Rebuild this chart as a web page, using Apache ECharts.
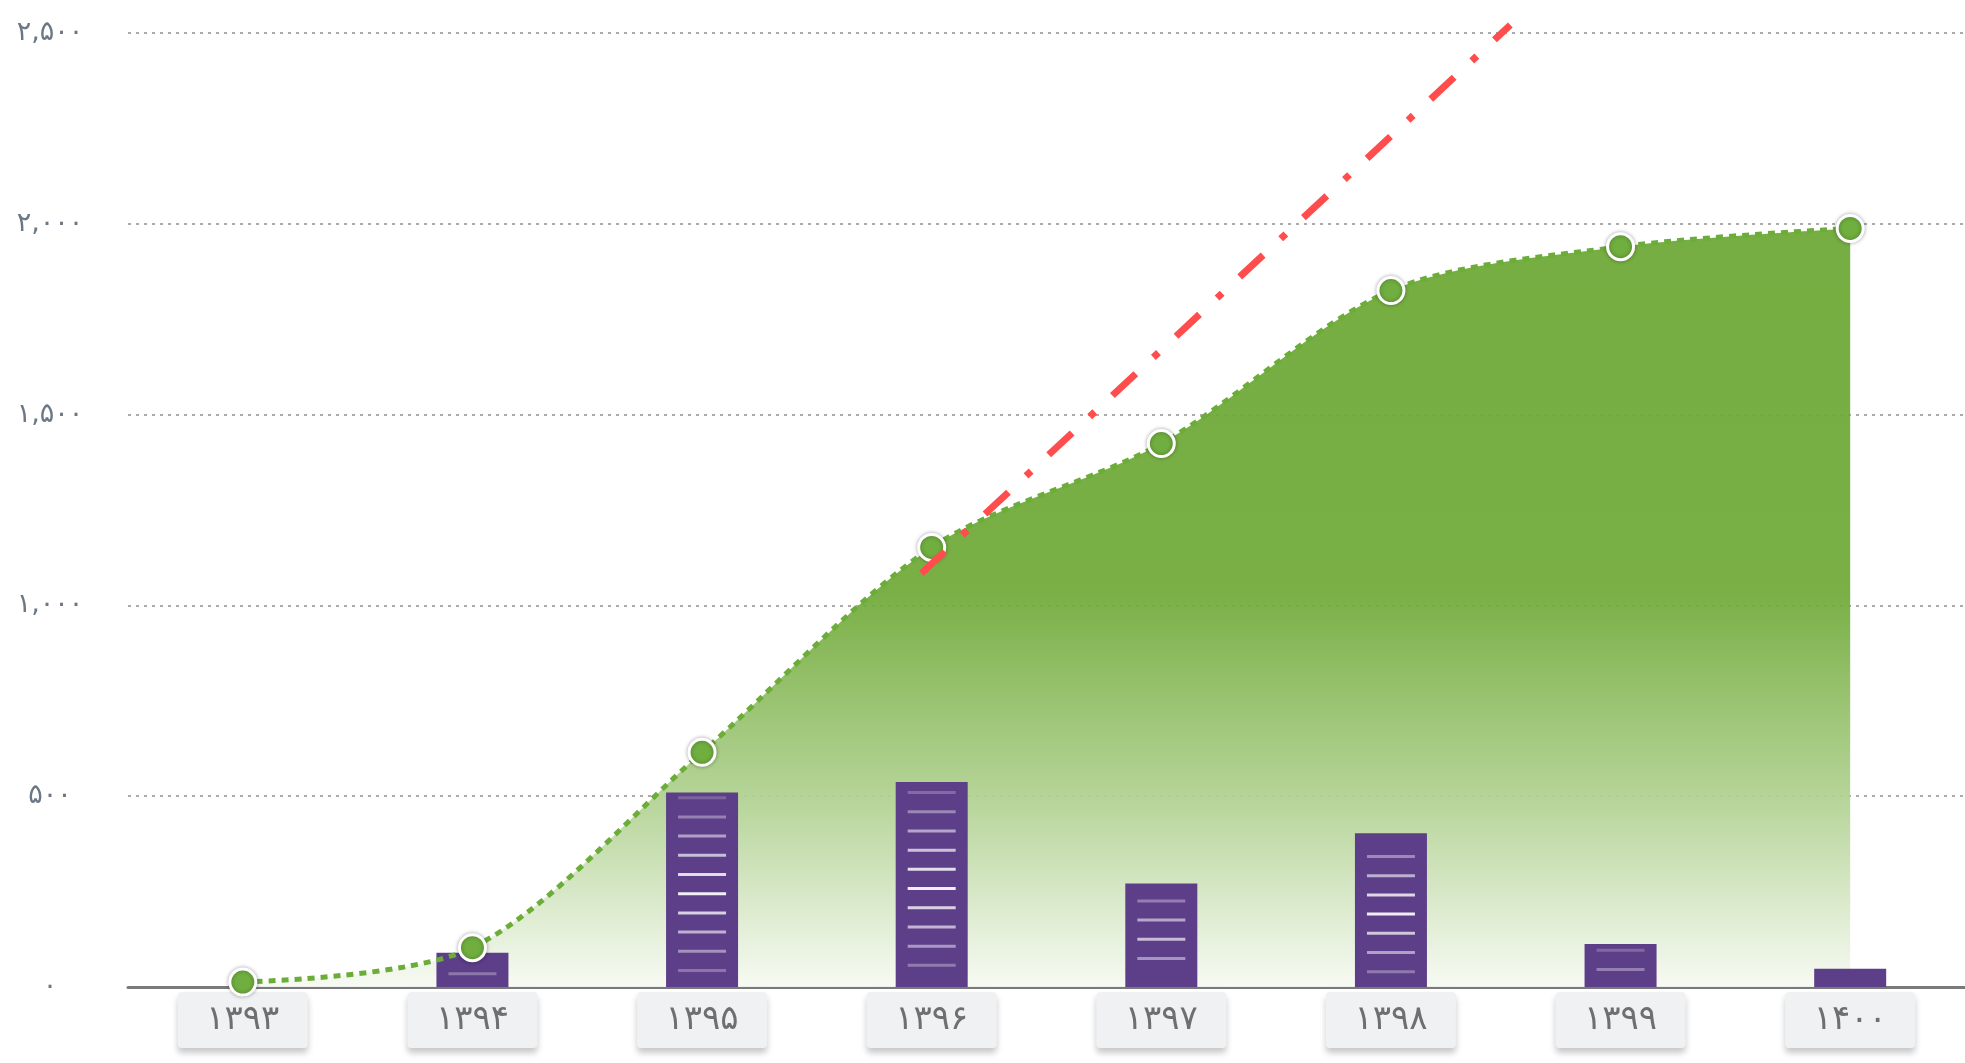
<!DOCTYPE html>
<html>
<head>
<meta charset="utf-8">
<title>chart</title>
<script src="https://cdn.jsdelivr.net/npm/echarts@6/dist/echarts.min.js"></script>
<style>
  html, body { margin: 0; padding: 0; background: #fff; }
  #chart { width: 1965px; height: 1063px; }
</style>
</head>
<body>
<div id="chart"></div>
<script>
// years (Persian digits), yearly count (bars), running total (green line)
const years = ['۱۳۹۳', '۱۳۹۴', '۱۳۹۵', '۱۳۹۶', '۱۳۹۷', '۱۳۹۸', '۱۳۹۹', '۱۴۰۰'];
const yearly = [0, 90, 510, 537, 271, 403, 113, 48];
const total = [13, 103, 615, 1152, 1424, 1825, 1940, 1988];
const yTicks = ['۰', '۵۰۰', '۱,۰۰۰', '۱,۵۰۰', '۲,۰۰۰', '۲,۵۰۰'];
// red projection line, x in category index units
const trendX = [2.955, 5.52];
const trendY = [1084, 2521];

const font = 'DejaVu Sans';
const chart = echarts.init(document.getElementById('chart'));

function renderStripes(params, api) {
  const i = api.value(0);
  const v = api.value(1);
  const base = api.coord([i, 0]);
  const top = api.coord([i, v]);
  const h = base[1] - top[1];
  const mid = (base[1] + top[1]) / 2;
  const strength = Math.min(1, h / 150);
  const children = [];
  for (let k = -12; k <= 12; k++) {
    const y = mid + k * 19.2 + 4;
    if (y < top[1] + 5 || y > base[1] - 10) continue;
    const d = Math.abs(y - mid) / (h / 2);
    children.push({
      type: 'rect',
      shape: { x: base[0] - 24, y: y - 1.5, width: 48, height: 3 },
      style: { fill: '#fff', opacity: 0.15 + 0.8 * (1 - d) * strength }
    });
  }
  return { type: 'group', children };
}

chart.setOption({
  animation: false,
  grid: { left: 128, right: -12, top: 33, bottom: 76 },
  xAxis: [
    {
      type: 'category',
      data: years,
      axisTick: { show: false },
      axisLine: { lineStyle: { color: '#7a7a7a', width: 3 } },
      axisLabel: {
        interval: 0,
        margin: 5,
        fontFamily: font,
        fontSize: 34,
        lineHeight: 30,
        color: '#6f6f6f',
        align: 'center',
        width: 130,
        padding: [13, 0, 13, 0],
        backgroundColor: '#f0f1f3',
        borderRadius: 4,
        shadowColor: 'rgba(0,0,0,0.22)',
        shadowBlur: 6,
        shadowOffsetY: 5
      }
    },
    { type: 'value', min: -0.5, max: 7.5, show: false }
  ],
  yAxis: {
    type: 'value',
    min: 0,
    max: 2500,
    interval: 500,
    axisLine: { show: false },
    axisTick: { show: false },
    axisLabel: {
      margin: 78,
      align: 'center',
      fontFamily: font,
      fontSize: 27,
      color: '#6b7785',
      padding: [0, 0, 18, 0],
      formatter: (v) => yTicks[Math.round(v / 500)]
    },
    splitLine: { lineStyle: { color: '#ababab', width: 2, type: [3, 5] } }
  },
  series: [
    {
      name: 'area',
      type: 'line',
      data: total,
      smooth: 0.3,
      symbol: 'none',
      z: 1,
      lineStyle: { width: 0 },
      areaStyle: {
        opacity: 0.92,
        color: new echarts.graphic.LinearGradient(0, 0, 0, 1, [
          { offset: 0, color: '#6aa732' },
          { offset: 0.48, color: '#6ea936' },
          { offset: 0.75, color: '#b0d190' },
          { offset: 1, color: '#f7faf3' }
        ])
      }
    },
    {
      name: 'yearly',
      type: 'bar',
      data: yearly,
      barWidth: 72,
      z: 2,
      itemStyle: { color: '#5d3e88' }
    },
    {
      name: 'stripes',
      type: 'custom',
      data: yearly.map((v, i) => [i, v]),
      renderItem: renderStripes,
      z: 3
    },
    {
      name: 'total',
      type: 'line',
      data: total,
      smooth: 0.3,
      z: 4,
      symbol: 'circle',
      symbolSize: 26,
      lineStyle: { color: '#6cad3a', width: 5, type: [7, 6] },
      itemStyle: {
        color: '#70ae3f',
        borderColor: '#fff',
        borderWidth: 3,
        shadowColor: 'rgba(0,0,0,0.3)',
        shadowBlur: 4
      }
    },
    {
      name: 'trend',
      type: 'line',
      xAxisIndex: 1,
      data: trendX.map((x, i) => [x, trendY[i]]),
      symbol: 'none',
      clip: false,
      z: 5,
      lineStyle: { color: '#ff4d4d', width: 7, type: [32, 24, 7, 24], cap: 'butt' }
    }
  ]
});

window.addEventListener('resize', () => chart.resize());
</script>
</body>
</html>
